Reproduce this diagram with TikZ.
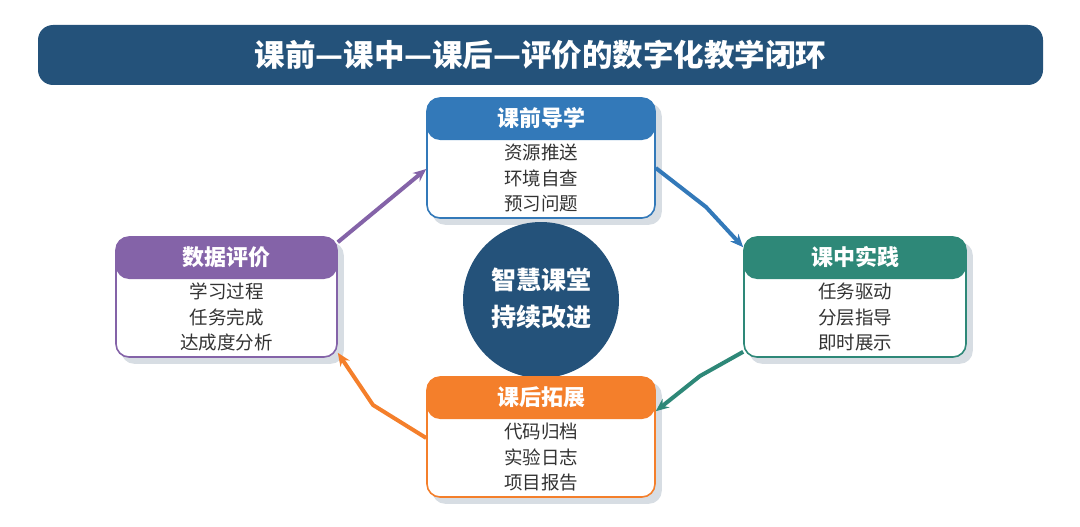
\documentclass[tikz,border=0pt]{standalone}
\usepackage{fontspec}
\newfontfamily\cjk{Noto Sans CJK SC}
\usetikzlibrary{arrows.meta,backgrounds}
\definecolor{titleblue}{HTML}{24527A}
\definecolor{cblue}{HTML}{3379B9}
\definecolor{cteal}{HTML}{2E8878}
\definecolor{corange}{HTML}{F47F2B}
\definecolor{cpurple}{HTML}{8463A8}
\definecolor{shadowc}{HTML}{D7DDE3}
\definecolor{bodytext}{HTML}{333333}
\tikzset{
  card/.style={draw=#1, line width=1.6pt, rounded corners=13pt, fill=white,
    minimum height=120pt, inner sep=0pt,
    path picture={\fill[#1] (path picture bounding box.north west) rectangle ([yshift=-42pt]path picture bounding box.north east);}},
  hdr/.style={text=white, font=\cjk\bfseries\fontsize{22}{24}\selectfont, inner sep=0pt},
  body/.style={text=bodytext, align=center, font=\cjk\fontsize{18.5}{25.5}\selectfont, inner sep=0pt},
  flow/.style={line width=4pt, -{Stealth[length=13pt,width=11pt]}, #1},
}
\begin{document}
\begin{tikzpicture}[x=1pt,y=-1pt]
\useasboundingbox (0,0) rectangle (1080,527);
% title
\node[fill=titleblue, rounded corners=15pt, minimum width=1005pt, minimum height=60pt, inner sep=0pt] (title) at (540.5,55) {};
\node[text=white, font=\cjk\bfseries\fontsize{30.5}{33}\selectfont, inner sep=0pt] (titletext) at (title.center) {课前—课中—课后—评价的数字化教学闭环};
% centre circle
\node[circle, fill=titleblue, minimum size=156pt, inner sep=0pt] (hub) at (541,300) {};
\node[text=white, align=center, font=\cjk\bfseries\fontsize{25}{37}\selectfont, inner sep=0pt] (hubtext) at ([yshift=2pt]hub.center) {智慧课堂\\持续改进};
% cards
\node[card=cblue, minimum width=228pt] (pre) at (541,158) {};
\node[card=cteal, minimum width=222pt] (mid) at (855,297) {};
\node[card=corange, minimum width=228pt] (post) at (541,437) {};
\node[card=cpurple, minimum width=221pt] (eval) at (226.5,297) {};
\begin{scope}[on background layer]
  \foreach \n in {pre,mid,post,eval}{
    \fill[shadowc, rounded corners=13pt] ([xshift=6pt,yshift=-6pt]\n.north west) rectangle ([xshift=6pt,yshift=-6pt]\n.south east);
  }
\end{scope}
% card texts
\node[hdr] (preh) at ([yshift=-21pt]pre.north) {课前导学};
\node[body] (preb) at ([yshift=-81pt]pre.north) {资源推送\\环境自查\\预习问题};
\node[hdr] (midh) at ([yshift=-21pt]mid.north) {课中实践};
\node[body] (midb) at ([yshift=-81pt]mid.north) {任务驱动\\分层指导\\即时展示};
\node[hdr] (posth) at ([yshift=-21pt]post.north) {课后拓展};
\node[body] (postb) at ([yshift=-81pt]post.north) {代码归档\\实验日志\\项目报告};
\node[hdr] (evalh) at ([yshift=-21pt]eval.north) {数据评价};
\node[body] (evalb) at ([yshift=-81pt]eval.north) {学习过程\\任务完成\\达成度分析};
% connectors
\coordinate (k1) at (706,207);
\coordinate (k2) at (700,376);
\coordinate (k3) at (373,405);
\draw[flow=cblue] ([yshift=-10pt]pre.east) -- (k1) -- ([yshift=-11pt]mid.north west);
\draw[flow=cteal] ([yshift=6pt]mid.south west) -- (k2) -- ([yshift=-35pt]post.north east);
\draw[flow=corange] ([yshift=-1pt]post.west) -- (k3) -- ([yshift=5pt]eval.south east);
\draw[flow=cpurple] ([yshift=-6pt]eval.north east) -- ([yshift=-11pt]pre.west);
\end{tikzpicture}
\end{document}
